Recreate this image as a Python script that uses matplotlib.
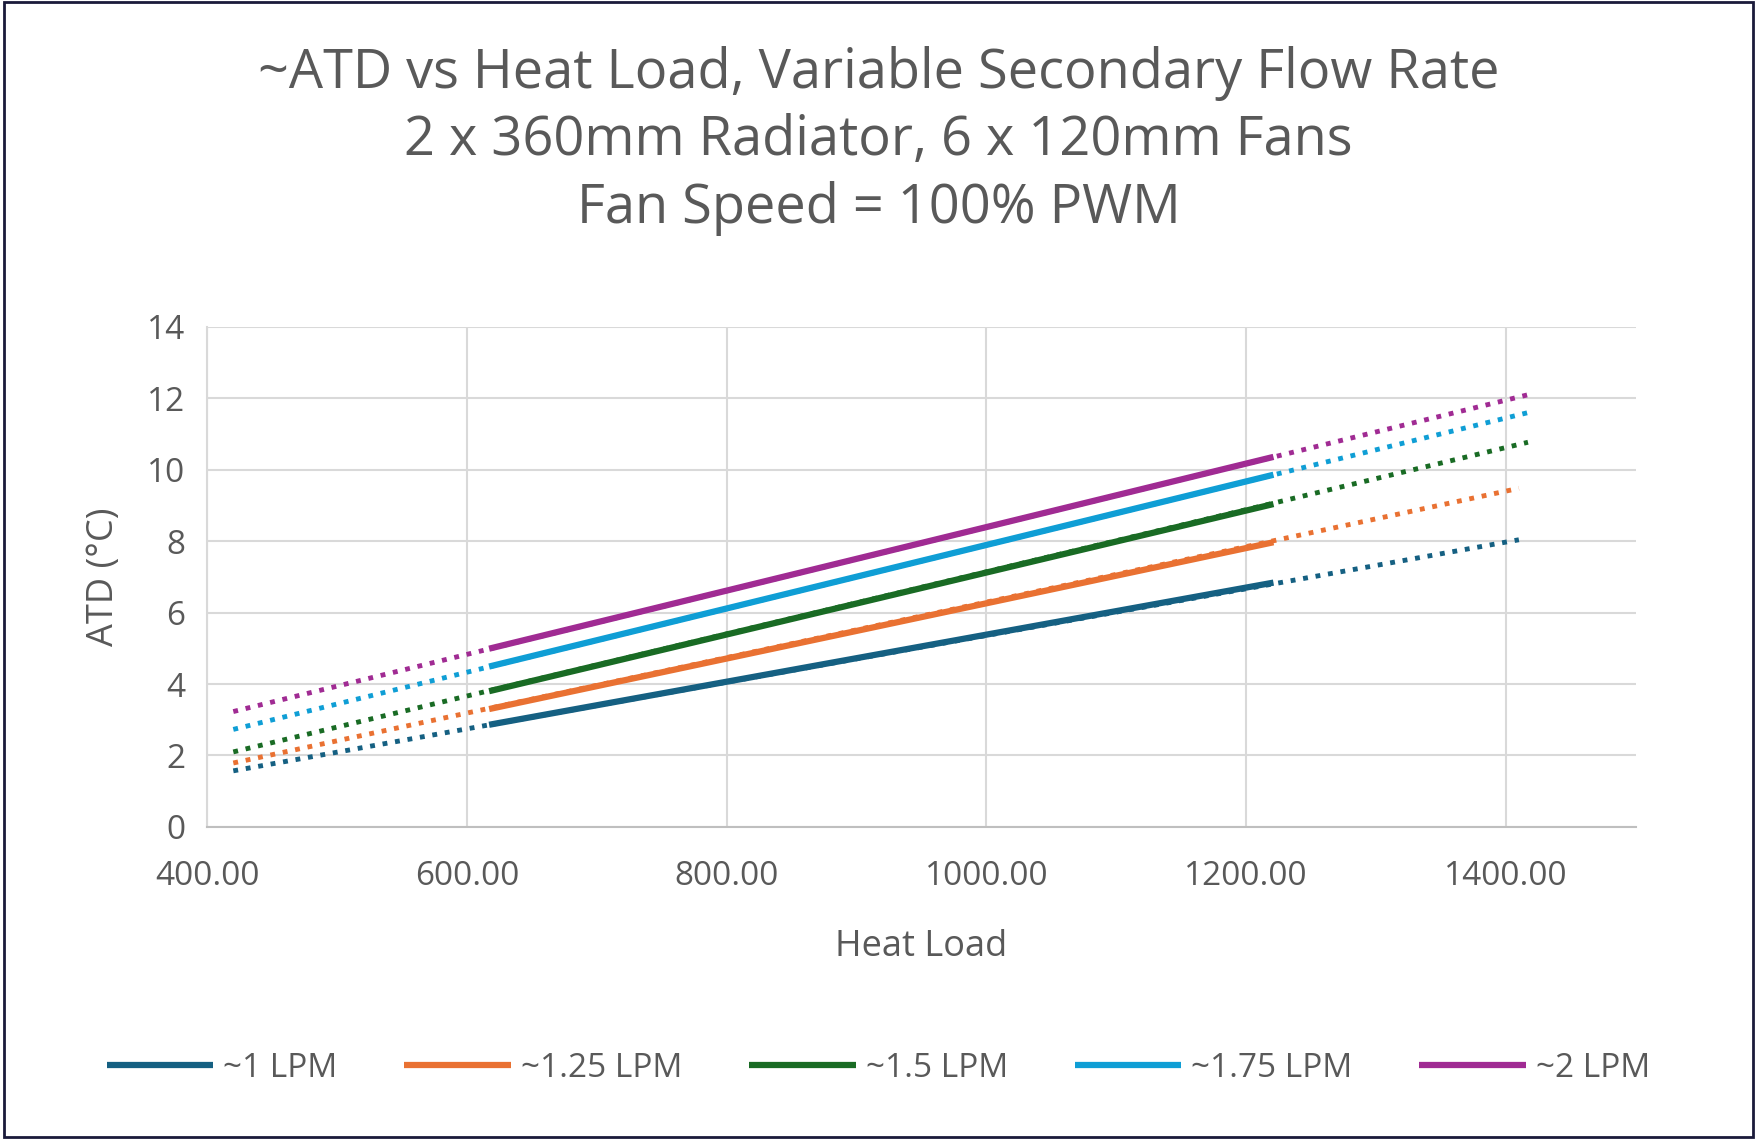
import matplotlib.pyplot as plt
from matplotlib.patches import Rectangle

plt.rcParams["font.family"] = ["Open Sans", "DejaVu Sans"]

labels = ["~1 LPM", "~1.25 LPM", "~1.5 LPM", "~1.75 LPM", "~2 LPM"]
colors = ["#156082", "#E97132", "#196B24", "#0F9ED5", "#A02B93"]

# measured data (solid)
load_x = [617, 1221]
atd_y = [
    [2.86, 6.84],
    [3.30, 7.97],
    [3.80, 9.04],
    [4.49, 9.86],
    [4.99, 10.36],
]
# linear trendlines (dotted)
trend_x = [
    [420, 1410],
    [420, 1410],
    [420, 1417],
    [420, 1417],
    [420, 1417],
]
trend_y = [
    [1.57, 8.04],
    [1.79, 9.48],
    [2.10, 10.77],
    [2.73, 11.60],
    [3.23, 12.10],
]

fig = plt.figure(figsize=(17.57, 11.39), dpi=100)
fig.patches.append(Rectangle((0.002, 0.002), 0.996, 0.996, transform=fig.transFigure,
                             fill=False, edgecolor="#1a1a3a", linewidth=2))
ax = fig.add_axes([0.118, 0.274, 0.813, 0.439])

handles = []
for i in range(len(labels)):
    ax.plot(trend_x[i], trend_y[i], linestyle=(0, (1, 1.6)), color=colors[i], linewidth=3.5)
    h, = ax.plot(load_x, atd_y[i], color=colors[i], linewidth=4.5, solid_capstyle="butt")
    handles.append(h)

ax.set_xlim(400, 1500)
ax.set_ylim(0, 14)
ax.set_xticks([400, 600, 800, 1000, 1200, 1400])
ax.set_xticklabels([f"{v:.2f}" for v in [400, 600, 800, 1000, 1200, 1400]])
ax.set_yticks(range(0, 15, 2))
ax.grid(color="#d9d9d9", linewidth=1.5)
ax.set_axisbelow(True)
for side in ["top", "right"]:
    ax.spines[side].set_visible(False)
ax.spines["left"].set_color("#d9d9d9")
ax.spines["bottom"].set_color("#bfbfbf")
ax.spines["left"].set_linewidth(1.5)
ax.spines["bottom"].set_linewidth(1.5)
ax.tick_params(axis="x", length=0, labelsize=24, colors="#595959", pad=24)
ax.tick_params(axis="y", length=0, labelsize=24, colors="#595959", pad=16)
ax.set_xlabel("Heat Load", fontsize=26, color="#595959", labelpad=26)
ax.set_ylabel("ATD (°C)", fontsize=26, color="#595959", labelpad=18)

fig.text(0.5, 0.96, "~ATD vs Heat Load, Variable Secondary Flow Rate\n"
         "2 x 360mm Radiator, 6 x 120mm Fans\nFan Speed = 100% PWM",
         ha="center", va="top", fontsize=39, color="#595959", linespacing=1.3)

fig.legend(handles, labels, loc="center", bbox_to_anchor=(0.5, 0.062), ncol=5,
           frameon=False, fontsize=24, handlelength=3.2, columnspacing=2.0,
           handletextpad=0.3, labelcolor="#595959")

fig.savefig("out.png", dpi=100)
